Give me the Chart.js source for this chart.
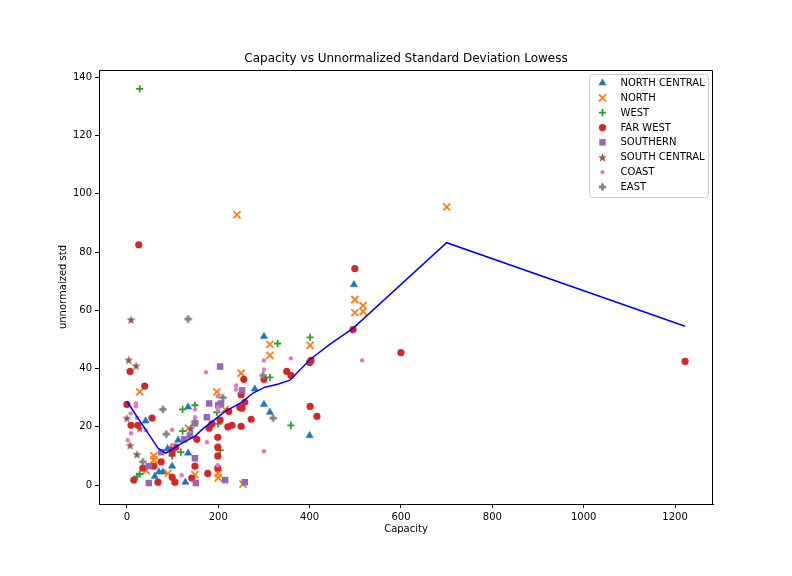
<!DOCTYPE html>
<html>
<head>
<meta charset="utf-8">
<script src="https://cdn.jsdelivr.net/npm/chart.js@4.4.1/dist/chart.umd.min.js"></script>
<style>
  html, body { margin: 0; padding: 0; background: #fff; }
  canvas { display: block; }
</style>
</head>
<body>
<canvas id="chart" width="792" height="576"></canvas>
<script>
// [capacity, unnormalized std]
const NORTH_CENTRAL = [[41,22],[61,3],[70,4.5],[79,4.5],[89,12.5],[99,6.5],[112,15.4],[128,1],[134,11],
  [134,26.8],[280,33],[300,51],[300,27.7],[313,25],[400,17],[497,68.8]];
const NORTH = [[28,32],[42,5],[59,10],[59,8.7],[90,4],[135,19.5],[149,3.6],[197,32],[200,4],[200,2.5],
  [215,26],[241,92.8],[250,38.4],[254,0.3],[313,48.3],[313,44.5],[401,48],[499,63.7],[499,59.2],
  [517,61.6],[517,59.6],[700,95.5]];
const WEST = [[22,3],[28,3.8],[28,136],[99,10],[118,11.3],[122,18.5],[122,26],[149,27.4],[197,25],
  [200,21],[204,12],[313,37],[330,48.6],[359,20.5],[401,50.7]];
const FAR_WEST = [[0,27.7],[7,39],[9,20.5],[15,1.7],[24,20.5],[26,82.5],[35,5.8],[39,34],[55,23],
  [59,6.5],[68,1],[75,8],[99,2.7],[99,11],[101,12.7],[105,1],[107,13],[142,2.4],[149,6.5],[153,15.7],
  [177,4],[180,19.5],[186,21],[199,16.4],[199,13],[199,10],[199,5.8],[204,22.3],[221,20],[223,25.3],
  [230,20.5],[247,26.7],[250,20.2],[250,31],[252,26.4],[258,28.4],[256,36.3],[272,22.6],[300,36.3],
  [350,39],[359,37.7],[400,42.1],[403,42.8],[401,27],[416,23.6],[495,53.4],[499,74.3],[600,45.5],
  [1222,42.5]];
const SOUTHERN = [[48,6.5],[48,0.7],[75,11.3],[125,15.7],[138,17],[149,9.2],[149,21.2],[151,0.7],
  [175,23.3],[180,28],[200,27.4],[204,40.7],[206,28],[215,1.7],[252,32.5],[258,1]];
const SOUTH_CENTRAL = [[0,23],[4,43],[7,13.7],[9,56.8],[20,41],[22,10.6],[28,19.5],[140,19.5]];
const COAST = [[2,15.4],[8,24.6],[9,17.8],[20,28],[20,27],[22,23],[41,18.8],[99,19],[99,13.7],[120,3.4],
  [149,26],[149,23.3],[173,38.7],[175,14.7],[199,30.5],[199,26.7],[199,25.7],[199,6.8],[239,34.2],
  [239,32.8],[300,42.8],[300,39.7],[300,11.6],[359,43.5],[515,42.8]];
const EAST = [[35,8],[79,26],[86,17.5],[134,57],[149,21.6],[210,30],[298,37.7],[320,23]];
const LOWESS = [[0,28.7],[68,12.7],[85,11],[94,11.8],[120,14.3],[149,16.8],[166,19.3],[199,23.3],
  [215,25.3],[252,28.5],[276,31.6],[302,33.6],[330,34.6],[357,36],[401,43.1],[444,48.3],[495,53.8],
  [700,83.2],[1222,54.5]];

const X_TICKS = [0, 200, 400, 600, 800, 1000, 1200];
const Y_TICKS = [0, 20, 40, 60, 80, 100, 120, 140];

const FONT = "'DejaVu Sans', sans-serif";

// filled marker images for the star and the filled plus
function starImage(color) {
  const c = document.createElement('canvas');
  c.width = 11; c.height = 11;
  const g = c.getContext('2d');
  g.fillStyle = color;
  g.beginPath();
  for (let i = 0; i < 10; i++) {
    const r = i % 2 === 0 ? 4.8 : 1.9;
    const a = -Math.PI / 2 + i * Math.PI / 5;
    const px = 5.5 + r * Math.cos(a), py = 6 + r * Math.sin(a);
    if (i === 0) g.moveTo(px, py); else g.lineTo(px, py);
  }
  g.closePath();
  g.fill();
  return c;
}
function plusImage(color) {
  const c = document.createElement('canvas');
  c.width = 9; c.height = 9;
  const g = c.getContext('2d');
  g.fillStyle = color;
  g.fillRect(0.8, 3.2, 7.4, 2.6);
  g.fillRect(3.2, 0.8, 2.6, 7.4);
  return c;
}

const toPts = arr => arr.map(([x, y]) => ({ x, y }));

const series = [
  { label: 'NORTH CENTRAL', data: NORTH_CENTRAL, color: '#1f77b4', pointStyle: 'triangle', radius: 4.2, bw: 0.5 },
  { label: 'NORTH', data: NORTH, color: '#ff7f0e', pointStyle: 'crossRot', radius: 5, bw: 1.8 },
  { label: 'WEST', data: WEST, color: '#2ca02c', pointStyle: 'cross', radius: 3.6, bw: 1.8 },
  { label: 'FAR WEST', data: FAR_WEST, color: '#d62728', pointStyle: 'circle', radius: 3.6, bw: 0 },
  { label: 'SOUTHERN', data: SOUTHERN, color: '#9467bd', pointStyle: 'rect', radius: 4.6, bw: 0 },
  { label: 'SOUTH CENTRAL', data: SOUTH_CENTRAL, color: '#8c564b', pointStyle: starImage('#8c564b'), radius: 5, bw: 0 },
  { label: 'COAST', data: COAST, color: '#e377c2', pointStyle: 'circle', radius: 2.2, bw: 0 },
  { label: 'EAST', data: EAST, color: '#7f7f7f', pointStyle: plusImage('#7f7f7f'), radius: 5, bw: 0 },
];

const datasets = series.map((s, i) => ({
  label: s.label,
  data: toPts(s.data),
  pointStyle: s.pointStyle,
  pointRadius: s.radius,
  pointBackgroundColor: s.color,
  pointBorderColor: s.color,
  pointBorderWidth: s.bw,
  showLine: false,
  order: series.length - i + 1  // later series on top, like matplotlib
}));
datasets.push({
  label: 'lowess',
  data: toPts(LOWESS),
  showLine: true,
  borderColor: '#0000ff',
  borderWidth: 1.5,
  pointRadius: 0,
  tension: 0,
  fill: false,
  order: 0
});

// title, top/right spines and the boxed legend
const decorPlugin = {
  id: 'decor',
  afterDraw(chart) {
    const { ctx, chartArea: a } = chart;
    ctx.save();
    ctx.strokeStyle = '#000';
    ctx.lineWidth = 1;
    ctx.beginPath();
    ctx.moveTo(Math.round(a.left) + 0.5, Math.round(a.top) + 0.5);
    ctx.lineTo(Math.round(a.right) - 0.5, Math.round(a.top) + 0.5);
    ctx.lineTo(Math.round(a.right) - 0.5, Math.round(a.bottom));
    ctx.stroke();

    ctx.fillStyle = '#000';
    ctx.font = '12px ' + FONT;
    ctx.textAlign = 'center';
    ctx.textBaseline = 'middle';
    ctx.fillText('Capacity vs Unnormalized Standard Deviation Lowess', (a.left + a.right) / 2, 59);

    // legend
    const bx = 589, by = 74.5, bwid = 119, bh = 123;
    ctx.fillStyle = 'rgba(255,255,255,0.8)';
    ctx.strokeStyle = '#cccccc';
    ctx.beginPath();
    if (ctx.roundRect) ctx.roundRect(bx + 0.5, by, bwid, bh, 3); else ctx.rect(bx + 0.5, by, bwid, bh);
    ctx.fill();
    ctx.stroke();

    ctx.font = '10px ' + FONT;
    ctx.textAlign = 'left';
    series.forEach((s, i) => {
      const y = 83 + i * 14.85;
      ctx.fillStyle = s.color;
      ctx.strokeStyle = s.color;
      ctx.lineWidth = s.bw;
      if (Chart.helpers && Chart.helpers.drawPoint) {
        Chart.helpers.drawPoint(ctx, { pointStyle: s.pointStyle, radius: s.radius, borderWidth: s.bw, rotation: 0 }, 602.5, y);
      }
      ctx.fillStyle = '#000';
      ctx.fillText(s.label, 620.5, y + 0.5);
    });
    ctx.restore();
  }
};

const tickFont = { family: FONT, size: 10 };

new Chart(document.getElementById('chart'), {
  type: 'scatter',
  data: { datasets },
  options: {
    responsive: false,
    animation: false,
    devicePixelRatio: 1,
    layout: { padding: { left: 0, top: 70, right: 79, bottom: 0 } },
    plugins: { legend: { display: false }, tooltip: { enabled: false }, title: { display: false } },
    scales: {
      x: {
        type: 'linear',
        min: -61.1,
        max: 1283.1,
        afterBuildTicks: s => { s.ticks = X_TICKS.map(v => ({ value: v })); },
        afterFit: s => { s.height = 72; },
        ticks: { font: tickFont, color: '#000', padding: 3, maxRotation: 0, autoSkip: false, callback: v => String(v) },
        grid: { display: true, drawOnChartArea: false, drawTicks: true, tickLength: 4, tickColor: '#000' },
        border: { display: true, color: '#000', width: 1 },
        title: { display: true, text: 'Capacity', color: '#000', font: tickFont, padding: { top: 0, bottom: 41 } }
      },
      y: {
        type: 'linear',
        min: -6.5,
        max: 142.5,
        afterBuildTicks: s => { s.ticks = Y_TICKS.map(v => ({ value: v })); },
        afterFit: s => { s.width = 99; },
        ticks: { font: tickFont, color: '#000', padding: 3, autoSkip: false, callback: v => String(v) },
        grid: { display: true, drawOnChartArea: false, drawTicks: true, tickLength: 4, tickColor: '#000' },
        border: { display: true, color: '#000', width: 1 },
        title: { display: true, text: 'unnormaized std', color: '#000', font: tickFont, padding: { top: 57, bottom: 0 } }
      }
    }
  },
  plugins: [decorPlugin]
});
</script>
</body>
</html>
